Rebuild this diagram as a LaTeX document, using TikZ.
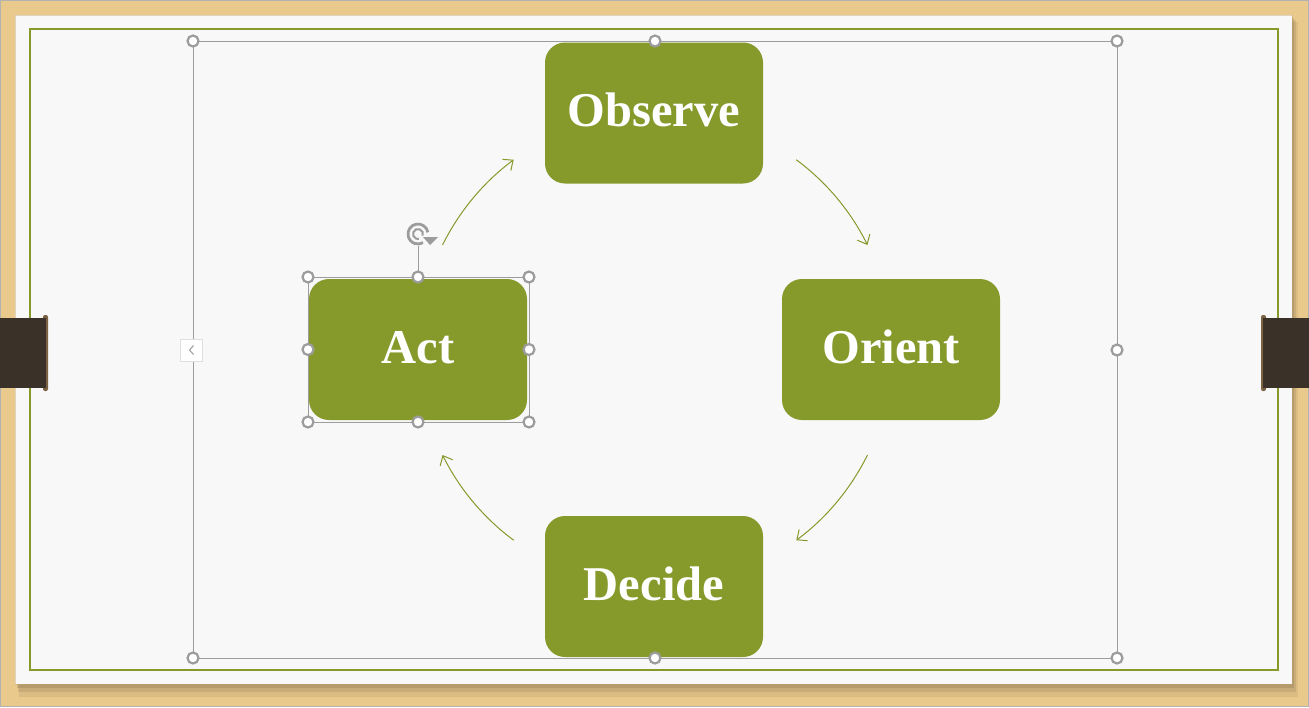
\documentclass[tikz,border=0pt]{standalone}
\usepackage{fontspec}
\setmainfont{Liberation Serif}
\usetikzlibrary{arrows.meta,calc}
\definecolor{wood}{HTML}{EAC98C}
\definecolor{olivegrn}{HTML}{869A2C}
\definecolor{tabbrown}{HTML}{3A3129}
\definecolor{knob}{HTML}{7A6242}
\definecolor{selgray}{HTML}{9C9C9C}
\definecolor{paper}{HTML}{F8F8F8}
\begin{document}
\begin{tikzpicture}[x=1pt,y=-1pt,
  stepbox/.style={rounded corners=20pt, fill=olivegrn, minimum width=218pt, minimum height=141pt,
    text=white, font=\fontsize{48.5}{52}\selectfont\bfseries, inner sep=0pt, text height=33pt, text depth=6pt},
  handle/.style={circle, draw=selgray, fill=white, line width=2.2pt, minimum size=11pt, inner sep=0pt},
  cycarrow/.style={olivegrn, line width=1pt, -{Straight Barb[length=8pt,width=14pt,line width=1pt]}},
  selframe/.style={selgray, line width=0.9pt},
]
\useasboundingbox (0,0) rectangle (1309,707);
% wood background
\fill[wood] (0,0) rectangle (1309,707);
\draw[gray!60, line width=1.2pt] (0.6,0.6) rectangle (1308.4,706.4);
% paper shadow
\fill[black!60!wood, opacity=0.10] (19,22) rectangle (1298,697);
\fill[black!60!wood, opacity=0.14] (18,20) rectangle (1296,692);
\fill[black!60!wood, opacity=0.18] (17,18) rectangle (1294,688);
% paper
\fill[paper] (15,15) rectangle (1292,684);
\draw[wood!80!black, opacity=0.4, line width=0.6pt] (15,15) rectangle (1292,684);
% green border
\draw[olivegrn, line width=2pt] (30,29) rectangle (1278,670);
% tabs
\fill[knob, rounded corners=2pt] (43,315) rectangle (48,391);
\fill[tabbrown] (0,318) rectangle (46,388);
\fill[knob, rounded corners=2pt] (1261,315) rectangle (1266,391);
\fill[tabbrown] (1263,318) rectangle (1309,388);
% selection frame of the diagram
\draw[selframe] (193,41) rectangle (1117,658);
% boxes
\node[stepbox] (observe) at (654,113) {Observe};
\node[stepbox] (orient) at (891,349.5) {Orient};
\node[stepbox] (act) at (418,349.5) {Act};
\node[stepbox] (decide) at (654,586.5) {Decide};
% diagram handles
\node[handle] (h1) at (193,41) {};
\node[handle] (h2) at (655,41) {};
\node[handle] (h3) at (1117,41) {};
\node[handle] (h4) at (1117,350) {};
\node[handle] (h5) at (1117,658) {};
\node[handle] (h6) at (655,658) {};
\node[handle] (h7) at (193,658) {};
% collapse button
\node[draw=gray!25, fill=white, minimum size=22pt, inner sep=0pt] (collapse) at (191.5,350) {};
\draw[gray!80, line width=1pt] (193.5,345.5) -- (189.5,350) -- (193.5,354.5);
% cycle arrows
\coordinate (c) at (655,350);
\coordinate (a1) at ($(c)+(-153.7:237)$);
\coordinate (a2) at ($(c)+(-53.4:237)$);
\coordinate (a3) at ($(c)+(26.3:237)$);
\coordinate (a4) at ($(c)+(126.6:237)$);
\draw[cycarrow] (a1) arc[start angle=-153.7, end angle=-126.6, radius=237];
\draw[cycarrow] (a2) arc[start angle=-53.4, end angle=-26.3, radius=237];
\draw[cycarrow] (a3) arc[start angle=26.3, end angle=53.4, radius=237];
\draw[cycarrow] (a4) arc[start angle=126.6, end angle=153.7, radius=237];
% Act selection
\draw[selframe] (308,277) rectangle (529,422);
\coordinate (rot) at (418,234);
\draw[selframe] (418,277) -- (418,246);
\foreach \n/\p in {s1/{(308,277)},s2/{(418,277)},s3/{(529,277)},s4/{(529,349.5)},s5/{(529,422)},s6/{(418,422)},s7/{(308,422)},s8/{(308,349.5)}}
  \node[handle] (\n) at \p {};
% rotation icon
\draw[selgray, line width=2.8pt] (rot) ++(-10:10) arc[start angle=-10, end angle=-300, radius=10];
\draw[selgray, line width=2pt] (rot) ++(20:5) arc[start angle=20, end angle=-280, radius=5];
\fill[selgray] ($(rot)+(5,3)$) -- ($(rot)+(20,3)$) -- ($(rot)+(12,11)$) -- cycle;
\end{tikzpicture}
\end{document}
